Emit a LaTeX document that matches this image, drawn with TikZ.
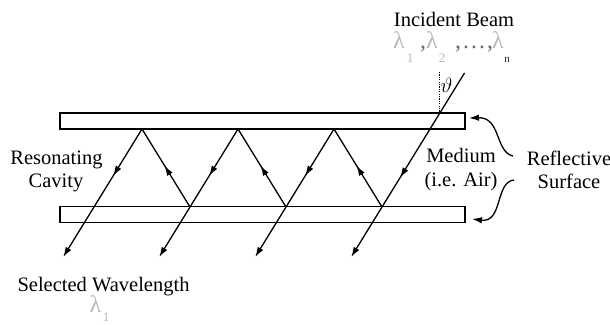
\documentclass[tikz,border=0pt]{standalone}
\usepackage{fontspec}
\setmainfont{Liberation Serif}
\usetikzlibrary{arrows.meta,decorations.markings}
\definecolor{lamgray}{gray}{0.72}
\definecolor{punctgray}{gray}{0.42}
\begin{document}
\begin{tikzpicture}[x=1pt,y=-1pt,
  tipstyle/.style={-{Latex[length=10pt,width=6.5pt]}},
  beam/.style={line width=1.3pt},
  endray/.style={beam, tipstyle},
  midarrow/.style={beam, postaction={decorate},
    decoration={markings, mark=at position #1 with {\arrow{Latex[length=10pt,width=6.5pt]}}}},
  plate/.style={draw, line width=1.2pt, minimum width=405pt, minimum height=16pt, inner sep=0pt},
  lbl/.style={font=\fontsize{20.5}{23}\selectfont, inner sep=0pt, anchor=base},
  lam/.style={font=\fontsize{24}{26}\selectfont, inner sep=0pt, anchor=base west, text=lamgray},
  sub/.style={font=\fontsize{13}{14}\selectfont, inner sep=0pt, anchor=base, text=lamgray},
]
\useasboundingbox (0,0) rectangle (610,324);

% plates
\node[plate] (topplate) at (262.5,121) {};
\node[plate] (botplate) at (262.5,214.5) {};

% ray points
\coordinate (S) at (464.5,73);
\coordinate (B3) at (382,207);
\coordinate (T3) at (334,129);
\coordinate (B2) at (286,207);
\coordinate (T2) at (238,129);
\coordinate (B1) at (190,207);
\coordinate (T1) at (142,129);
\coordinate (X0) at (94,207);
\coordinate (E0) at (63.2,257);
\coordinate (E1) at (159.2,257);
\coordinate (E2) at (255.2,257);
\coordinate (E3) at (351.2,257);

% rays
\draw[midarrow=0.78] (S) -- (B3);
\draw[endray] (B3) -- (E3);
\draw[midarrow=0.53] (B3) -- (T3);
\draw[midarrow=0.6] (T3) -- (B2);
\draw[endray] (B2) -- (E2);
\draw[midarrow=0.53] (B2) -- (T2);
\draw[midarrow=0.6] (T2) -- (B1);
\draw[endray] (B1) -- (E1);
\draw[midarrow=0.53] (B1) -- (T1);
\draw[midarrow=0.6] (T1) -- (X0);
\draw[endray] (X0) -- (E0);

% normal
\coordinate (N1) at (439.5,72);
\coordinate (N2) at (439.5,113);
\draw[line width=1.1pt, dash pattern=on 1.2pt off 1.2pt] (N1) -- (N2);
\node[inner sep=0pt, font=\fontsize{20}{22}\selectfont] (theta) at (446.5,85) {$\vartheta$};

% reflective surface arrows
\coordinate (RA) at (513,156);
\coordinate (RAt) at (469,118);
\coordinate (RB) at (514,180);
\coordinate (RBt) at (472,219);
\draw[endray] (RA) .. controls (495,152) and (501,117) .. (RAt);
\draw[endray] (RB) .. controls (495,182) and (503,223) .. (RBt);

% labels
\node[lbl] (incident) at (454,27) {Incident Beam};
\node[lam] (l1) at (393,48) {λ};
\node[sub] (s1) at (410,62) {1};
\node[lam, text=punctgray] (c1) at (420,48) {,};
\node[lam] (l2) at (426,48) {λ};
\node[sub] (s2) at (442,62) {2};
\node[lam, text=punctgray] (dots) at (455,48) {,\hspace{2pt}.\hspace{2pt}.\hspace{2pt}.\hspace{2pt},};
\node[lam] (ln) at (492,48) {λ};
\node[sub, text=black!85, font=\fontsize{11}{12}\selectfont] (sn) at (507,62) {n};

\node[lbl] (res1) at (56.5,164) {Resonating};
\node[lbl] (res2) at (56,187) {Cavity};
\node[lbl] (med1) at (461,162) {Medium};
\node[lbl] (med2) at (461,186) {(i.e. Air)};
\node[lbl] (ref1) at (569,165) {Reflective};
\node[lbl] (ref2) at (569,188.5) {Surface};
\node[lbl] (sel) at (103.5,291) {Selected Wavelength};
\node[lam] (ls) at (89.5,312) {λ};
\node[sub] (ss) at (106,321.5) {1};
\end{tikzpicture}
\end{document}
